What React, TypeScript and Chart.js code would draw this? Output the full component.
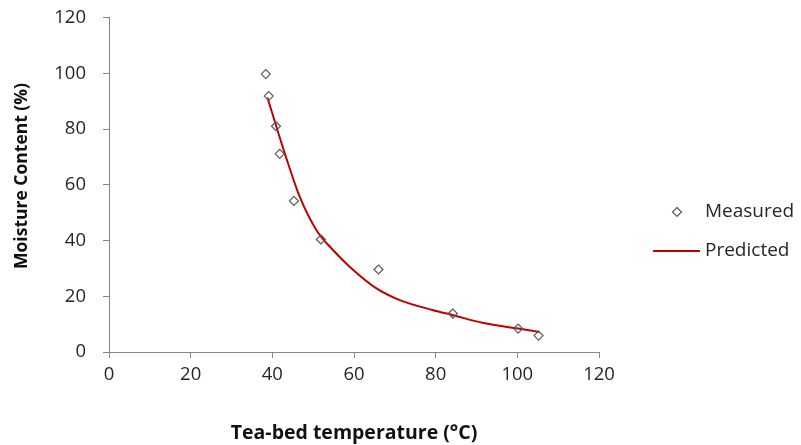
import React, { useEffect, useRef } from "react";
import { Chart, registerables } from "chart.js";

Chart.register(...registerables);

const measuredX = [38.4, 39.1, 40.9, 41.8, 45.3, 51.9, 66.0, 84.2, 100.2, 105.2];
const measuredY = [99.7, 91.8, 81.0, 71.1, 54.2, 40.4, 29.6, 13.8, 8.4, 5.9];

const predictedX = [38.8, 41.0, 43.6, 46.7, 50.8, 54.9, 59.0, 65.5, 71.2, 79.4, 84.3, 91.7, 100.2, 105.4];
const predictedY = [91.3, 80.8, 68.8, 55.7, 43.7, 36.5, 30.5, 22.8, 18.6, 15.0, 13.2, 10.4, 8.4, 7.2];

const xTicks = [0, 20, 40, 60, 80, 100, 120];
const yTicks = [0, 20, 40, 60, 80, 100, 120];

const seriesNames = ["Measured", "Predicted"];
const xTitle = "Tea-bed temperature (°C)";
const yTitle = "Moisture Content (%)";

const FONT = "'Open Sans', Lato, sans-serif";
const AXIS_COLOR = "#868686";
const TEXT_COLOR = "#262626";
const TITLE_COLOR = "#111111";
const RED = "#C00000";
const MARK = "#595959";

const legendPlugin = {
  id: "customLegend",
  afterDraw(chart: any) {
    const ctx = chart.ctx;
    const area = chart.chartArea;
    const textX = area.right + 106;
    const y1 = 212;
    const y2 = 251;
    ctx.save();
    ctx.strokeStyle = MARK;
    ctx.lineWidth = 1.2;
    ctx.beginPath();
    const cx = area.right + 78;
    const r = 4.5;
    ctx.moveTo(cx, y1 - r);
    ctx.lineTo(cx + r, y1);
    ctx.lineTo(cx, y1 + r);
    ctx.lineTo(cx - r, y1);
    ctx.closePath();
    ctx.stroke();
    ctx.strokeStyle = RED;
    ctx.lineWidth = 2;
    ctx.beginPath();
    ctx.moveTo(area.right + 54, y2);
    ctx.lineTo(area.right + 101, y2);
    ctx.stroke();
    ctx.fillStyle = TEXT_COLOR;
    ctx.font = `19px ${FONT}`;
    ctx.textBaseline = "middle";
    ctx.textAlign = "left";
    ctx.fillText(seriesNames[0], textX, y1);
    ctx.fillText(seriesNames[1], textX, y2);
    ctx.fillStyle = TITLE_COLOR;
    ctx.font = `bold 17.5px ${FONT}`;
    ctx.textAlign = "center";
    ctx.translate(22, 176);
    ctx.rotate(-Math.PI / 2);
    ctx.fillText(yTitle, 0, 0);
    ctx.restore();
  },
};

export default function App() {
  const ref = useRef<HTMLCanvasElement | null>(null);
  useEffect(() => {
    if (!ref.current) return;
    const chart = new Chart(ref.current, {
      type: "scatter",
      data: {
        datasets: [
          {
            label: seriesNames[1],
            data: predictedX.map((x, i) => ({ x, y: predictedY[i] })),
            showLine: true,
            borderColor: RED,
            borderWidth: 2,
            pointRadius: 0,
            cubicInterpolationMode: "monotone",
            fill: false,
            order: 2,
          } as any,
          {
            label: seriesNames[0],
            data: measuredX.map((x, i) => ({ x, y: measuredY[i] })),
            pointStyle: "rectRot",
            pointRadius: 4.5,
            borderColor: MARK,
            borderWidth: 1.2,
            backgroundColor: "rgba(255,255,255,0)",
            showLine: false,
            order: 1,
          } as any,
        ],
      },
      options: {
        animation: false,
        responsive: false,
        maintainAspectRatio: false,
        layout: { padding: { left: 0, right: 202, top: 17.5, bottom: 0 } },
        plugins: { legend: { display: false }, tooltip: { enabled: false } },
        scales: {
          x: {
            type: "linear",
            min: 0,
            max: 120,
            afterBuildTicks: (axis: any) => {
              axis.ticks = xTicks.map((v) => ({ value: v }));
            },
            afterFit: (axis: any) => {
              axis.height = 93;
              axis.paddingLeft = 0;
              axis.paddingRight = 0;
            },
            grid: { display: true, drawOnChartArea: false, drawTicks: true, tickLength: 6, color: AXIS_COLOR },
            border: { display: true, color: AXIS_COLOR, width: 1 },
            ticks: { color: TEXT_COLOR, font: { family: FONT, size: 18.5 }, padding: 6, maxRotation: 0 },
            title: {
              display: true,
              text: xTitle,
              color: TITLE_COLOR,
              font: { family: FONT, size: 19.5, weight: "bold" },
              padding: { top: 23, bottom: 0 },
            },
          },
          y: {
            type: "linear",
            min: 0,
            max: 120,
            afterBuildTicks: (axis: any) => {
              axis.ticks = yTicks.map((v) => ({ value: v }));
            },
            afterFit: (axis: any) => {
              axis.width = 109;
              axis.paddingTop = 0;
              axis.paddingBottom = 0;
            },
            grid: { display: true, drawOnChartArea: false, drawTicks: true, tickLength: 6, color: AXIS_COLOR },
            border: { display: true, color: AXIS_COLOR, width: 1 },
            ticks: { color: TEXT_COLOR, font: { family: FONT, size: 18.5 }, padding: 17 },
            title: { display: false },
          },
        },
      },
      plugins: [legendPlugin],
    });
    return () => chart.destroy();
  }, []);
  return (
    <div style={{ position: "fixed", left: 0, top: 0, width: 801, height: 445, background: "#fff" }}>
      <canvas ref={ref} width={801} height={445} style={{ width: 801, height: 445 }} />
    </div>
  );
}
